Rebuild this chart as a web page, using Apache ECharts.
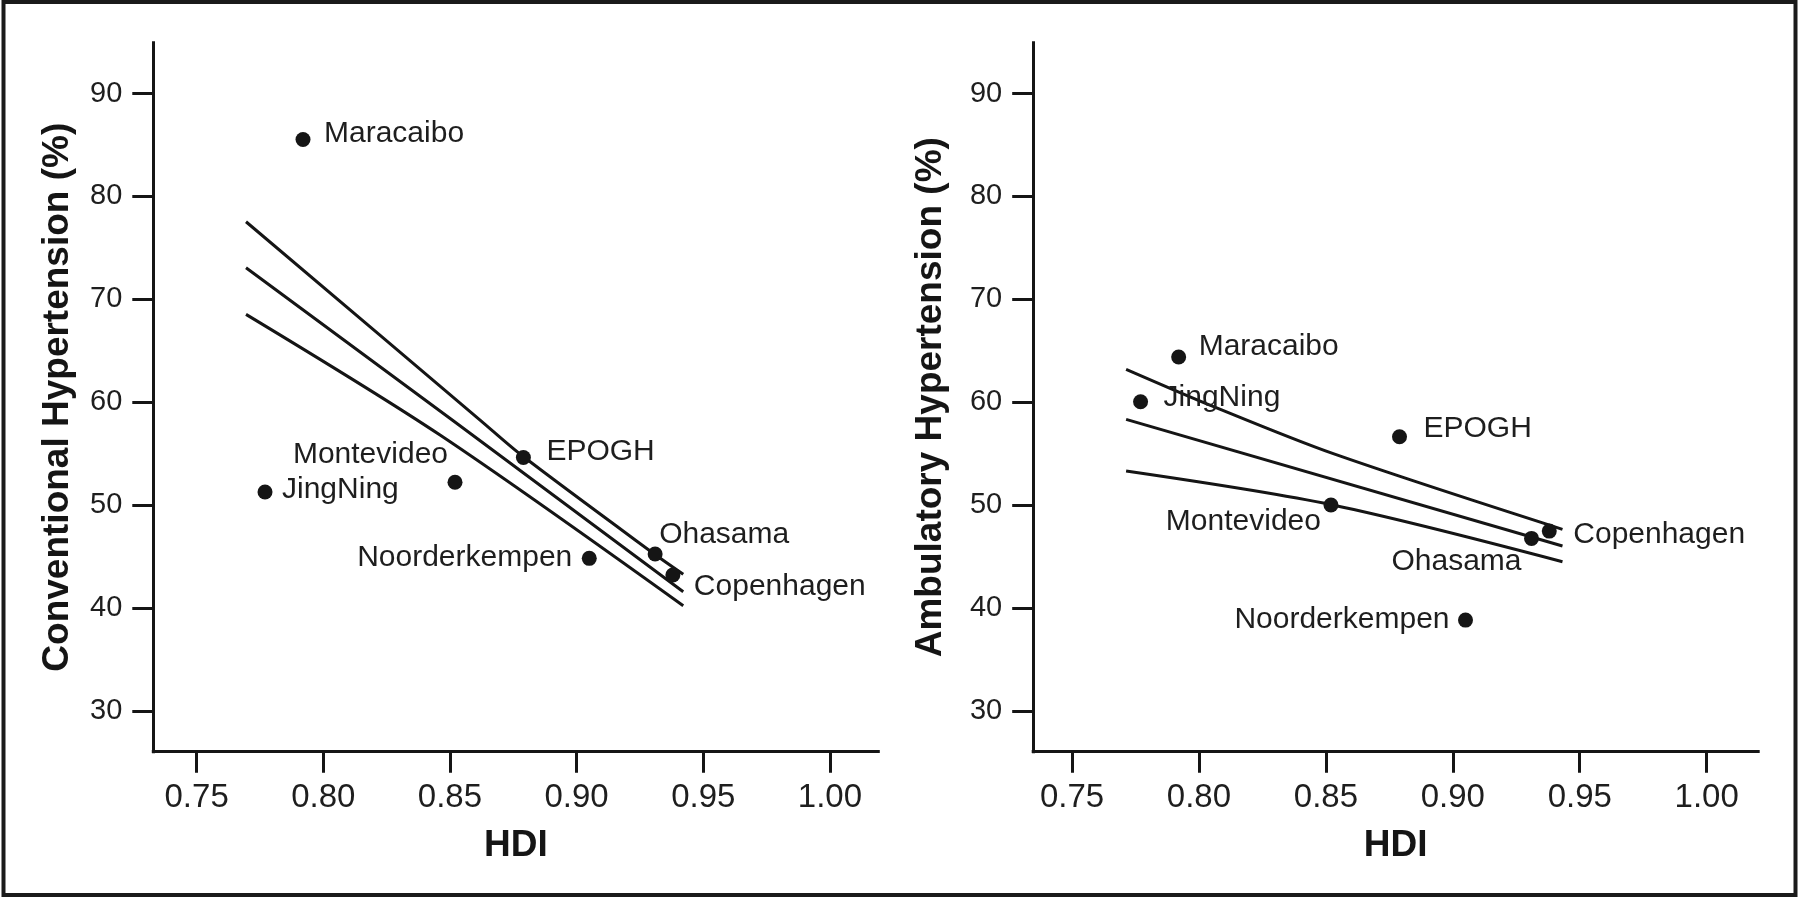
<!DOCTYPE html>
<html>
<head>
<meta charset="utf-8">
<script src="https://cdn.jsdelivr.net/npm/echarts@6/dist/echarts.min.js"></script>
<style>
  html, body { margin: 0; padding: 0; background: #ffffff; }
  #chart { width: 1800px; height: 898px; }
</style>
</head>
<body>
<div id="chart"></div>
<script>
// ---------------- data ----------------
const sites = ['Maracaibo', 'JingNing', 'Montevideo', 'EPOGH', 'Noorderkempen', 'Ohasama', 'Copenhagen'];
const hdi = [0.792, 0.777, 0.852, 0.879, 0.905, 0.931, 0.938];
const conventional = [85.53, 51.28, 52.23, 54.63, 44.83, 45.25, 43.21];
const ambulatory = [64.39, 60.05, 50.01, 56.65, 38.83, 46.77, 47.48];

// regression line and confidence limits, conventional panel
const convUpperX = [0.7695, 0.8619, 0.8787, 0.9307, 0.9421];
const convUpperY = [77.54, 58.27, 54.77, 45.25, 43.28];
const convFitX = [0.7695, 0.8513, 0.9421];
const convFitY = [73.07, 58.2, 41.58];
const convLowerX = [0.7695, 0.8461, 0.9421];
const convLowerY = [68.54, 56.81, 40.22];

// regression line and confidence limits, ambulatory panel
const ambUpperX = [0.7713, 0.8060, 0.8529, 0.9432];
const ambUpperY = [63.2, 59.55, 55.0, 47.65];
const ambFitX = [0.7713, 0.9432];
const ambFitY = [58.34, 46.03];
const ambLowerX = [0.7713, 0.8527, 0.9432];
const ambLowerY = [53.31, 50.01, 44.5];

const xTicks = [0.75, 0.80, 0.85, 0.90, 0.95, 1.00];
const yTicks = [30, 40, 50, 60, 70, 80, 90];
const xTitle = 'HDI';
const yTitles = ['Conventional Hypertension (%)', 'Ambulatory Hypertension (%)'];

// ---------------- layout / style ----------------
const FONT = '"Liberation Sans", Arial, Helvetica, sans-serif';
const INK = '#151515';
const TEXT = '#1e1e1e';

// label placement: [align, dx, dy] relative to dot centre (pixels)
const labelPlaceLeft = {
  Maracaibo: ['left', 21, -6],
  JingNing: ['left', 17, -2],
  Montevideo: ['right', -7, -27],
  EPOGH: ['left', 23, -6],
  Noorderkempen: ['right', -17, -1],
  Ohasama: ['left', 4, -19],
  Copenhagen: ['left', 21, 12]
};
const labelPlaceRight = {
  Maracaibo: ['left', 20, -10],
  JingNing: ['left', 23, -4],
  Montevideo: ['right', -10, 17],
  EPOGH: ['left', 24, -8],
  Noorderkempen: ['right', -16, 0],
  Ohasama: ['right', -10, 23],
  Copenhagen: ['left', 24, 4]
};

function zip(xs, ys) { return xs.map((x, i) => [x, ys[i]]); }

function xAxisDef(gridIndex, min, max) {
  return {
    type: 'value', gridIndex, min, max,
    name: xTitle, nameLocation: 'middle', nameGap: 76,
    nameTextStyle: { fontFamily: FONT, fontSize: 37, fontWeight: 'bold', color: INK },
    axisLine: { show: true, onZero: false, lineStyle: { color: INK, width: 3, cap: 'square' } },
    axisTick: { show: true, inside: false, length: 21, lineStyle: { color: INK, width: 3 }, customValues: xTicks },
    axisLabel: {
      show: true, margin: 30, customValues: xTicks,
      formatter: v => v.toFixed(2),
      fontFamily: FONT, fontSize: 33, color: TEXT
    },
    splitLine: { show: false }
  };
}

function yAxisDef(gridIndex, title, gap) {
  return {
    type: 'value', gridIndex, min: 26.04, max: 94.94,
    name: title, nameLocation: 'middle', nameGap: gap, nameRotate: 90,
    nameTextStyle: { fontFamily: FONT, fontSize: 37, fontWeight: 'bold', color: INK },
    axisLine: { show: true, onZero: false, lineStyle: { color: INK, width: 3, cap: 'square' } },
    axisTick: { show: true, inside: false, length: 21, lineStyle: { color: INK, width: 3 }, customValues: yTicks },
    axisLabel: {
      show: true, margin: 31, customValues: yTicks,
      fontFamily: FONT, fontSize: 29, color: TEXT
    },
    splitLine: { show: false }
  };
}

function lineSeries(idx, data, smooth) {
  return {
    type: 'line', xAxisIndex: idx, yAxisIndex: idx,
    data, smooth: smooth ? 0.3 : false,
    showSymbol: false, symbol: 'none',
    lineStyle: { color: INK, width: 3 }, silent: true, z: 2
  };
}

function scatterSeries(idx, ys, place) {
  return {
    type: 'scatter', xAxisIndex: idx, yAxisIndex: idx,
    data: sites.map((s, i) => ({ name: s, value: [hdi[i], ys[i]] })),
    symbol: 'circle', symbolSize: 15,
    itemStyle: { color: INK, opacity: 1 },
    label: {
      show: true, formatter: p => p.name,
      fontFamily: FONT, fontSize: 30, color: TEXT, opacity: 1
    },
    labelLayout: function (params) {
      const p = place[sites[params.dataIndex]];
      const cx = params.rect.x + params.rect.width / 2;
      const cy = params.rect.y + params.rect.height / 2;
      return { x: cx + p[1], y: cy + p[2], align: p[0], verticalAlign: 'middle', hideOverlap: false };
    },
    emphasis: { disabled: true },
    z: 3
  };
}

const chart = echarts.init(document.getElementById('chart'), null, { renderer: 'canvas' });

chart.setOption({
  backgroundColor: '#ffffff',
  animation: false,
  grid: [
    { left: 153.3, top: 42.7, width: 725, height: 709, containLabel: false, outerBoundsMode: 'none' },
    { left: 1033.2, top: 42.7, width: 725, height: 709, containLabel: false, outerBoundsMode: 'none' }
  ],
  xAxis: [xAxisDef(0, 0.7329, 1.0191), xAxisDef(1, 0.7347, 1.0203)],
  yAxis: [yAxisDef(0, yTitles[0], 77), yAxisDef(1, yTitles[1], 84)],
  series: [
    lineSeries(0, zip(convUpperX, convUpperY), true),
    lineSeries(0, zip(convFitX, convFitY), false),
    lineSeries(0, zip(convLowerX, convLowerY), true),
    scatterSeries(0, conventional, labelPlaceLeft),
    lineSeries(1, zip(ambUpperX, ambUpperY), true),
    lineSeries(1, zip(ambFitX, ambFitY), false),
    lineSeries(1, zip(ambLowerX, ambLowerY), true),
    scatterSeries(1, ambulatory, labelPlaceRight)
  ],
  graphic: [{
    type: 'rect', silent: true,
    shape: { x: 3.5, y: 2, width: 1792, height: 893 },
    style: { fill: 'none', stroke: '#1a1a1a', lineWidth: 4 }
  }]
});
</script>
</body>
</html>
